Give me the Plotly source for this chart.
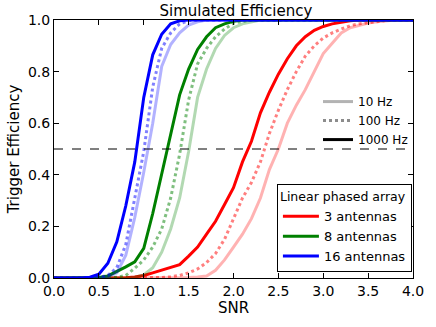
import numpy as np
import plotly.graph_objects as go

# SNR grid (0.0 .. 4.0, step 0.1)
snr = [round(0.1 * i, 1) for i in range(41)]


def pad(vals, start):
    """zeros before start index, ones after the listed values"""
    out = [0.0] * start + list(vals)
    return out + [1.0] * (41 - len(out))


# 3 antennas
red_10 = pad([0.002, 0.004, 0.008, 0.03, 0.07, 0.12, 0.17, 0.23, 0.31, 0.42, 0.50, 0.60, 0.67,
              0.73, 0.80, 0.87, 0.91, 0.95, 0.97, 0.98, 0.988, 0.993, 0.996], 15)
red_100 = pad([0.002, 0.005, 0.01, 0.02, 0.035, 0.06, 0.095, 0.15, 0.23, 0.31, 0.37, 0.45, 0.56,
               0.65, 0.73, 0.80, 0.86, 0.90, 0.93, 0.95, 0.965, 0.978, 0.985, 0.99, 0.995, 0.998], 12)
red_1000 = pad([0.001, 0.004, 0.01, 0.02, 0.03, 0.04, 0.052, 0.085, 0.12, 0.17, 0.22, 0.285, 0.35,
                0.45, 0.53, 0.64, 0.72, 0.79, 0.85, 0.90, 0.935, 0.96, 0.975, 0.985, 0.992, 0.997], 8)
# 8 antennas
green_10 = pad([0.003, 0.012, 0.04, 0.10, 0.19, 0.31, 0.49, 0.70, 0.81, 0.89, 0.94, 0.97, 0.985,
                0.993], 9)
green_100 = pad([0.003, 0.01, 0.038, 0.07, 0.12, 0.19, 0.31, 0.48, 0.69, 0.83, 0.89, 0.935, 0.965,
                 0.987, 0.995], 7)
green_1000 = pad([0.002, 0.008, 0.024, 0.043, 0.063, 0.115, 0.25, 0.40, 0.55, 0.71, 0.81, 0.886,
                  0.935, 0.97, 0.985, 0.995], 5)
# 16 antennas
blue_10 = pad([0.001, 0.005, 0.02, 0.088, 0.235, 0.41, 0.60, 0.82, 0.905, 0.95, 0.98, 0.993], 5)
blue_100 = pad([0.003, 0.01, 0.04, 0.13, 0.31, 0.49, 0.74, 0.89, 0.95, 0.985, 0.997], 5)
blue_1000 = pad([0.003, 0.015, 0.057, 0.14, 0.28, 0.45, 0.70, 0.865, 0.945, 0.985, 0.997], 4)

FONT = "DejaVu Sans"
DOT = "3px,3px"

fig = go.Figure()

series = [
    ("rgb(255,0,0)", "rgba(255,0,0,0.5)", "rgba(255,0,0,0.3)", red_1000, red_100, red_10, "3 antennas"),
    ("rgb(0,128,0)", "rgba(0,128,0,0.5)", "rgba(0,128,0,0.3)", green_1000, green_100, green_10, "8 antennas"),
    ("rgb(0,0,255)", "rgba(0,0,255,0.5)", "rgba(0,0,255,0.3)", blue_1000, blue_100, blue_10, "16 antennas"),
]

# curvas (10 Hz clara, 100 Hz pontilhada, 1000 Hz cheia)
for c_full, c_mid, c_light, y1000, y100, y10, nome in series:
    fig.add_trace(go.Scatter(x=snr, y=y10, mode="lines", line=dict(color=c_light, width=3),
                             showlegend=False))
    fig.add_trace(go.Scatter(x=snr, y=y100, mode="lines", line=dict(color=c_mid, width=3, dash=DOT),
                             showlegend=False))
    fig.add_trace(go.Scatter(x=snr, y=y1000, mode="lines", line=dict(color=c_full, width=3),
                             name=nome, legend="legend2"))

# legenda de frequências (linhas cinzas)
for nome, cor, dash in [("10 Hz", "rgba(128,128,128,0.6)", "solid"),
                        ("100 Hz", "rgba(128,128,128,0.9)", DOT),
                        ("1000 Hz", "black", "solid")]:
    fig.add_trace(go.Scatter(x=[None], y=[None], mode="lines", name=nome,
                             line=dict(color=cor, width=3, dash=dash), legend="legend"))

# Linha de 50%
fig.add_hline(y=0.5, line=dict(color="black", width=1, dash="dash"))

axis_common = dict(
    showline=True, linecolor="black", linewidth=1, mirror="ticks",
    ticks="inside", ticklen=5, tickcolor="black", showgrid=False, zeroline=False,
    tickfont=dict(family=FONT, size=14, color="black"),
)

fig.update_xaxes(range=[0, 4.0], tickvals=[0, 0.5, 1, 1.5, 2, 2.5, 3, 3.5, 4],
                 ticktext=["0.0", "0.5", "1.0", "1.5", "2.0", "2.5", "3.0", "3.5", "4.0"],
                 title=dict(text="SNR", font=dict(family=FONT, size=15, color="black"), standoff=2),
                 **axis_common)
fig.update_yaxes(range=[0, 1.0], tickvals=[0, 0.2, 0.4, 0.6, 0.8, 1.0],
                 ticktext=["0.0", "0.2", "0.4", "0.6", "0.8", "1.0"],
                 title=dict(text="Trigger Efficiency", font=dict(family=FONT, size=15, color="black"),
                            standoff=4),
                 **axis_common)

fig.update_layout(
    width=436, height=327,
    margin=dict(l=54, r=21, t=17, b=49),
    plot_bgcolor="white", paper_bgcolor="white",
    font=dict(family=FONT, color="black"),
    title=dict(text="Simulated Efficiency", x=0.541, xanchor="center", y=0.983, yanchor="top",
               font=dict(family=FONT, size=15, color="black")),
    legend=dict(x=1.0, xanchor="right", y=0.74, yanchor="top", bgcolor="rgba(0,0,0,0)",
                font=dict(family=FONT, size=12), itemwidth=30, tracegroupgap=0),
    legend2=dict(x=0.997, xanchor="right", y=0.023, yanchor="bottom", bgcolor="white",
                 bordercolor="black", borderwidth=1,
                 title=dict(text="Linear phased array", font=dict(family=FONT, size=12.5)),
                 font=dict(family=FONT, size=13), itemwidth=36),
)

# Remove a margem padrão do body para o gráfico ocupar a janela toda
fig.write_html("out.html", config={"displayModeBar": False},
               post_script="document.body.style.margin='0';")
